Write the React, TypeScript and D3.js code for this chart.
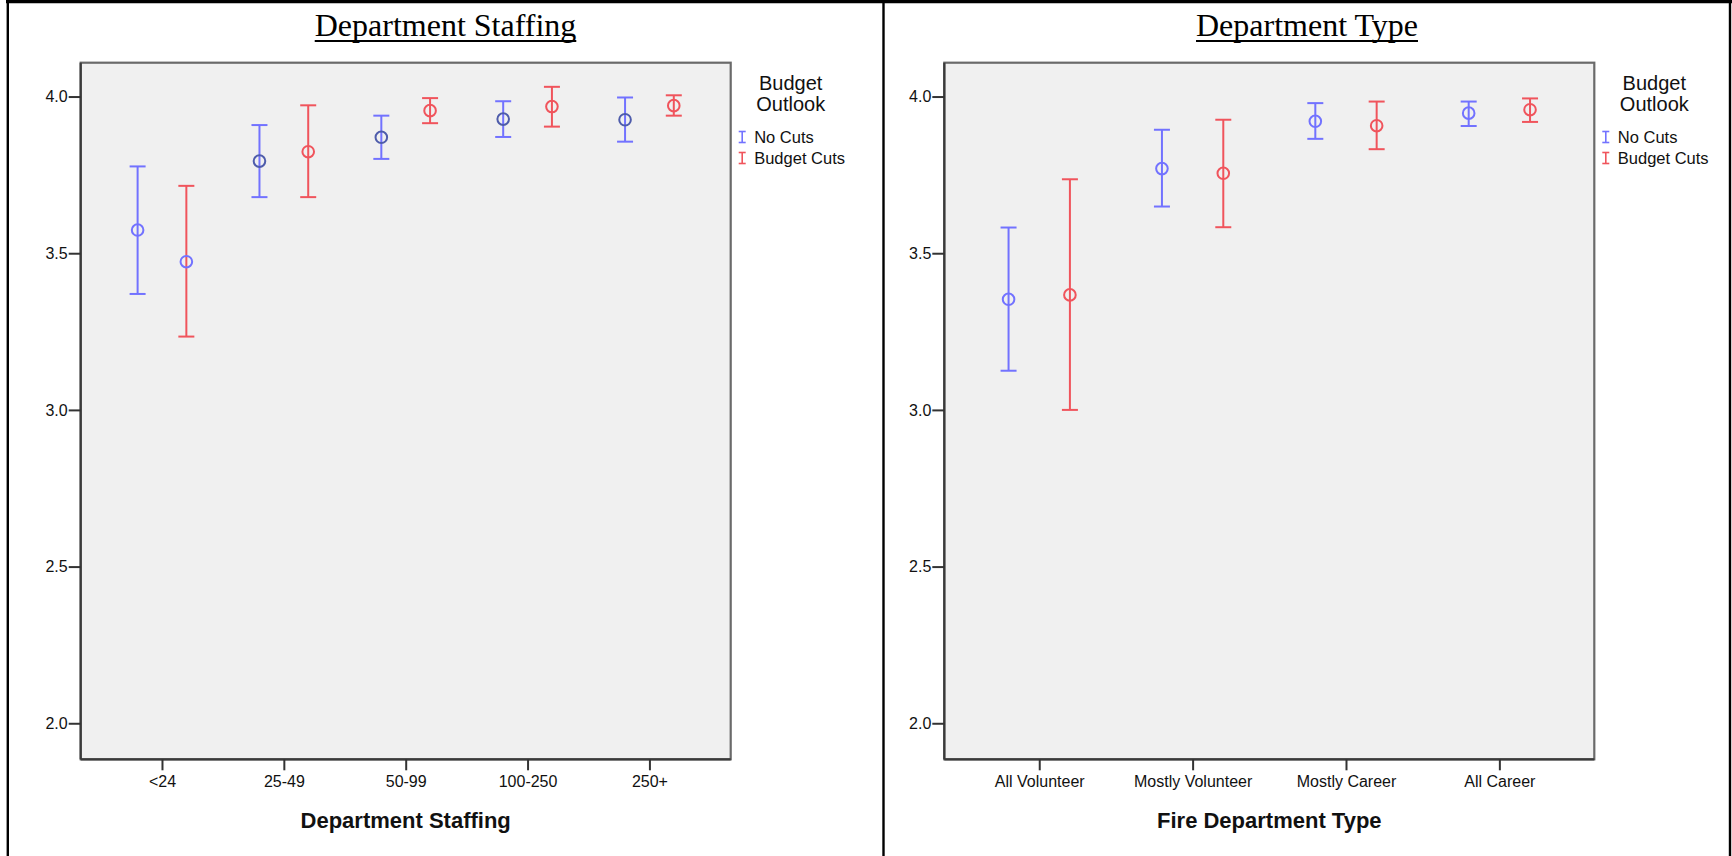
import { useEffect, useMemo, useRef } from "react";
import * as d3 from "d3";

const staffingCategories = ["<24", "25-49", "50-99", "100-250", "250+"];
const staffingNoCutsMean = [3.574, 3.794, 3.87, 3.928, 3.926];
const staffingNoCutsLow = [3.37, 3.679, 3.801, 3.871, 3.856];
const staffingNoCutsHigh = [3.777, 3.909, 3.939, 3.985, 3.997];
const staffingCutsMean = [3.473, 3.824, 3.955, 3.968, 3.971];
const staffingCutsLow = [3.234, 3.679, 3.915, 3.904, 3.939];
const staffingCutsHigh = [3.715, 3.972, 3.995, 4.031, 4.004];
// SPSS drew some mean markers in a different tone than their bars
const staffingNoCutsMarker = ["blue", "navy", "navy", "navy", "navy"];
const staffingCutsMarker = ["blue", "red", "red", "red", "red"];

const typeCategories = ["All Volunteer", "Mostly Volunteer", "Mostly Career", "All Career"];
const typeNoCutsMean = [3.353, 3.77, 3.921, 3.947];
const typeNoCutsLow = [3.125, 3.649, 3.865, 3.906];
const typeNoCutsHigh = [3.582, 3.894, 3.979, 3.984];
const typeCutsMean = [3.367, 3.755, 3.907, 3.958];
const typeCutsLow = [3.0, 3.583, 3.832, 3.919];
const typeCutsHigh = [3.736, 3.926, 3.984, 3.994];
const typeNoCutsMarker = ["blue", "blue", "blue", "blue"];
const typeCutsMarker = ["red", "red", "red", "red"];

const yTicks = [2.0, 2.5, 3.0, 3.5, 4.0];
const legendLabels = ["No Cuts", "Budget Cuts"];

const Y_DOMAIN = [1.885, 4.108];
const PLOT_TOP = 62.7;
const PLOT_BOTTOM = 759.3;
const COLORS = { blue: "#7272ff", navy: "#4e5cab", red: "#f0545c" };
const SANS = "'Liberation Sans', Arial, sans-serif";
const CAP = 8;

const ErrorPanel = ({ left, right, padding, panelCenter, title, axisTitle, categories, series }) => {
  const axesRef = useRef(null);
  const titleRef = useRef(null);
  const underlineRef = useRef(null);

  const xScale = useMemo(
    () => d3.scalePoint().domain(categories).range([left, right]).padding(padding),
    [categories, left, right, padding]
  );
  const yScale = useMemo(
    () => d3.scaleLinear().domain(Y_DOMAIN).range([PLOT_BOTTOM, PLOT_TOP]),
    []
  );
  const offset = xScale.step() * 0.2;

  // underline spans the title text
  useEffect(() => {
    const w = titleRef.current.getComputedTextLength();
    d3.select(underlineRef.current)
      .attr("x1", panelCenter - w / 2)
      .attr("x2", panelCenter + w / 2);
  }, [panelCenter, title]);

  useEffect(() => {
    const g = d3.select(axesRef.current);
    g.selectAll("*").remove();

    const yAxis = g
      .append("g")
      .attr("transform", `translate(${left},0)`)
      .call(d3.axisLeft(yScale).tickValues(yTicks).tickFormat(d3.format(".1f")).tickSize(12).tickSizeOuter(0));
    yAxis.select(".domain").remove();
    yAxis.selectAll(".tick line").attr("stroke", "#333").attr("stroke-width", 2);
    yAxis
      .selectAll(".tick text")
      .attr("x", -13)
      .attr("font-family", SANS)
      .attr("font-size", 16)
      .attr("fill", "#111");

    const xAxis = g
      .append("g")
      .attr("transform", `translate(0,${PLOT_BOTTOM})`)
      .call(d3.axisBottom(xScale).tickSize(11).tickSizeOuter(0));
    xAxis.select(".domain").remove();
    xAxis.selectAll(".tick line").attr("stroke", "#333").attr("stroke-width", 2);
    xAxis
      .selectAll(".tick text")
      .attr("y", 16)
      .attr("font-family", SANS)
      .attr("font-size", 16)
      .attr("fill", "#111");
  }, [xScale, yScale, left]);

  const marks = series.flatMap((s, si) =>
    categories.map((c, i) => {
      const x = xScale(c) + (si === 0 ? -offset : offset);
      const col = COLORS[s.color];
      return (
        <g key={`${si}-${i}`}>
          <line x1={x} x2={x} y1={yScale(s.high[i])} y2={yScale(s.low[i])} stroke={col} strokeWidth={2} />
          <line x1={x - CAP} x2={x + CAP} y1={yScale(s.high[i])} y2={yScale(s.high[i])} stroke={col} strokeWidth={2} />
          <line x1={x - CAP} x2={x + CAP} y1={yScale(s.low[i])} y2={yScale(s.low[i])} stroke={col} strokeWidth={2} />
          <circle cx={x} cy={yScale(s.mean[i])} r={5.8} fill="none" stroke={COLORS[s.marker[i]]} strokeWidth={2} />
        </g>
      );
    })
  );

  const legendX = right;
  return (
    <g>
      <text ref={titleRef} x={panelCenter} y={36} textAnchor="middle" fontFamily="'Liberation Serif', 'Times New Roman', serif" fontSize={32} fill="#000">
        {title}
      </text>
      <line ref={underlineRef} x1={panelCenter - 120} x2={panelCenter + 120} y1={41} y2={41} stroke="#000" strokeWidth={2} />
      <rect x={left} y={PLOT_TOP} width={right - left} height={PLOT_BOTTOM - PLOT_TOP} fill="#f0f0f0" stroke="#6a6a6a" strokeWidth={2.2} />
      <line x1={left} x2={left} y1={PLOT_TOP} y2={PLOT_BOTTOM} stroke="#3a3a3a" strokeWidth={2.2} />
      <line x1={left} x2={right} y1={PLOT_BOTTOM} y2={PLOT_BOTTOM} stroke="#3a3a3a" strokeWidth={2.2} />
      {marks}
      <g ref={axesRef} />
      <text x={(left + right) / 2} y={828} textAnchor="middle" fontFamily={SANS} fontWeight="bold" fontSize={22} fill="#111">
        {axisTitle}
      </text>
      <text x={legendX + 60} y={90} textAnchor="middle" fontFamily={SANS} fontSize={20} fill="#111">Budget</text>
      <text x={legendX + 60} y={111} textAnchor="middle" fontFamily={SANS} fontSize={20} fill="#111">Outlook</text>
      {legendLabels.map((label, i) => {
        const cy = 137 + i * 21;
        const col = COLORS[series[i].color];
        const ix = legendX + 11.5;
        return (
          <g key={label}>
            <line x1={ix} x2={ix} y1={cy - 5.5} y2={cy + 5.5} stroke={col} strokeWidth={1.6} />
            <line x1={ix - 3.5} x2={ix + 3.5} y1={cy - 5.5} y2={cy - 5.5} stroke={col} strokeWidth={1.6} />
            <line x1={ix - 3.5} x2={ix + 3.5} y1={cy + 5.5} y2={cy + 5.5} stroke={col} strokeWidth={1.6} />
            <text x={legendX + 23.5} y={cy + 6} fontFamily={SANS} fontSize={16.5} fill="#111">{label}</text>
          </g>
        );
      })}
    </g>
  );
};

export default function App() {
  useEffect(() => {
    document.body.style.margin = "0";
  }, []);

  const staffingSeries = [
    { color: "blue", mean: staffingNoCutsMean, low: staffingNoCutsLow, high: staffingNoCutsHigh, marker: staffingNoCutsMarker },
    { color: "red", mean: staffingCutsMean, low: staffingCutsLow, high: staffingCutsHigh, marker: staffingCutsMarker },
  ];
  const typeSeries = [
    { color: "blue", mean: typeNoCutsMean, low: typeNoCutsLow, high: typeNoCutsHigh, marker: typeNoCutsMarker },
    { color: "red", mean: typeCutsMean, low: typeCutsLow, high: typeCutsHigh, marker: typeCutsMarker },
  ];

  return (
    <svg width={1732} height={856} style={{ position: "absolute", left: 0, top: 0, background: "#fff" }}>
      {/* table borders */}
      <line x1={6} x2={1732} y1={1.6} y2={1.6} stroke="#000" strokeWidth={3.2} />
      <line x1={7.8} x2={7.8} y1={0} y2={856} stroke="#000" strokeWidth={2.4} />
      <line x1={883.5} x2={883.5} y1={0} y2={856} stroke="#000" strokeWidth={2.4} />
      <line x1={1730} x2={1730} y1={0} y2={856} stroke="#000" strokeWidth={2.4} />
      <ErrorPanel
        left={80.7}
        right={730.7}
        padding={0.667}
        panelCenter={445.5}
        title="Department Staffing"
        axisTitle="Department Staffing"
        categories={staffingCategories}
        series={staffingSeries}
      />
      <ErrorPanel
        left={944.3}
        right={1594.3}
        padding={0.619}
        panelCenter={1307}
        title="Department Type"
        axisTitle="Fire Department Type"
        categories={typeCategories}
        series={typeSeries}
      />
    </svg>
  );
}
